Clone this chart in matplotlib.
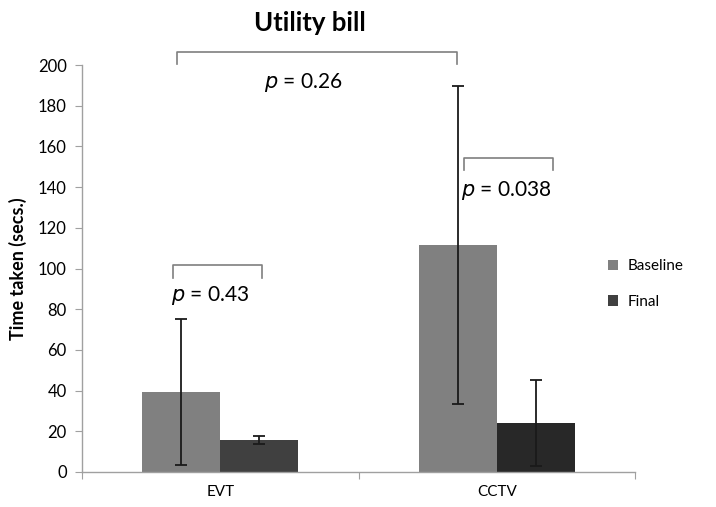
import matplotlib.pyplot as plt
import numpy as np

plt.rcParams['font.family'] = ['Lato', 'DejaVu Sans']

categories = ['EVT', 'CCTV']
series = ['Baseline', 'Final']
baseline_mean = [39.3, 111.5]
baseline_err = [36.0, 78.0]
final_mean = [15.6, 24.2]
final_err = [2.0, 21.2]

# significance annotations: (x_left, x_right, bracket height, text x, text y, p value)
comparisons = [
    (-0.155, 0.855, 206.5, 0.30, 191.5, '0.26'),
    (-0.17, 0.15, 101.5, -0.035, 86.5, '0.43'),
    (0.88, 1.205, 154.5, 1.035, 138.5, '0.038'),
]

fig = plt.figure(figsize=(7.16, 5.07), dpi=100)
ax = fig.add_axes([82/716, 1-472/507, (635-82)/716, (472-65)/507])

x = np.arange(len(categories))
w = 0.283
err_kw = dict(ecolor='#1a1a1a', elinewidth=1.3, capsize=4, capthick=1.3)
ax.bar(x - w/2, baseline_mean, w, yerr=baseline_err, color='#808080',
       label='Baseline', error_kw=err_kw, zorder=2)
ax.bar(x + w/2, final_mean, w, yerr=final_err, color=['#404040', '#282828'],
       label='Final', error_kw=err_kw, zorder=2)

ax.set_xlim(-0.5, 1.5)
ax.set_ylim(0, 200)
ax.set_yticks(np.arange(0, 201, 20))
ax.set_xticks([-0.5, 0.5, 1.5], minor=False)
ax.set_xticklabels([])
ax.set_xticks(x, minor=True)
ax.set_xticklabels(categories, minor=True)
ax.tick_params(axis='x', which='minor', length=0, pad=9, labelsize=11)
ax.tick_params(axis='x', which='major', length=5, color='#a0a0a0', direction='out')
ax.tick_params(axis='y', length=5, color='#a0a0a0', labelsize=12, pad=6)
for s in ['top', 'right']:
    ax.spines[s].set_visible(False)
for s in ['left', 'bottom']:
    ax.spines[s].set_color('#a0a0a0')
    ax.spines[s].set_linewidth(1.0)

ax.set_ylabel('Time taken (secs.)', fontsize=13, fontweight='bold', labelpad=8)
fig.text(0.433, 0.955, 'Utility bill', fontsize=18.5, fontweight='bold',
         ha='center', va='center')

drop = 6
for x0, x1, h, tx, ty, p in comparisons:
    ax.plot([x0, x0, x1, x1], [h - drop, h, h, h - drop], color='#7f7f7f',
            lw=1.2, clip_on=False, zorder=3)
    ax.text(tx, ty, f'$p$ = {p}', fontsize=15, ha='center', va='center')

ax.legend(loc='center left', bbox_to_anchor=(594/716, 1 - 284/507),
          bbox_transform=fig.transFigure, frameon=False,
          fontsize=11, handlelength=0.7, handleheight=0.7, handletextpad=0.6,
          labelspacing=1.4)

fig.savefig('out.png', dpi=100)
